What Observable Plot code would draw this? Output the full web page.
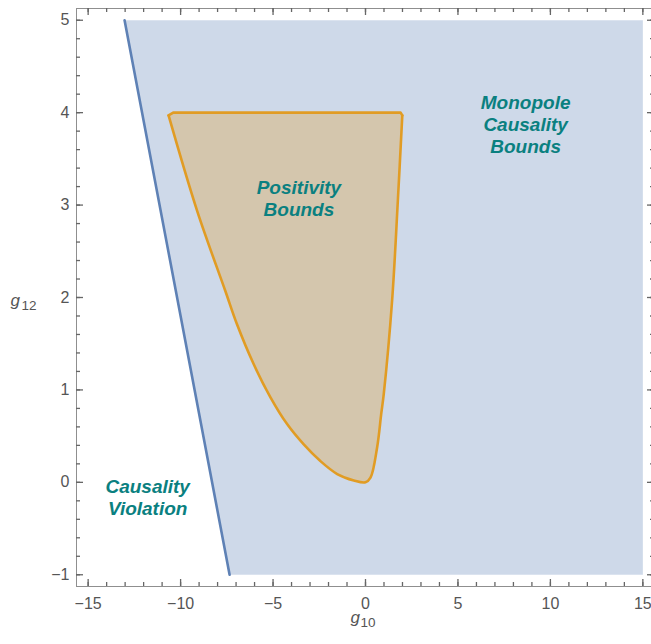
<!DOCTYPE html>
<html>
<head>
<meta charset="utf-8">
<script src="https://cdn.jsdelivr.net/npm/d3@7"></script>
<script src="https://cdn.jsdelivr.net/npm/@observablehq/plot@0.6"></script>
<style>
  html, body { margin: 0; padding: 0; background: #fff; overflow: hidden; }
</style>
</head>
<body>
<div id="chart"></div>
<script>
// Causality line bounding the allowed (monopole) region on the left
const causalityG10 = [-13.03, -7.35];
const causalityG12 = [5, -1];

// Monopole causality region (corners)
const monopoleG10 = [-13.03, 15, 15, -7.35];
const monopoleG12 = [5, 5, -1, -1];

// Positivity boundary: left branch from the top-left corner down to the origin,
// then the right branch up to the top-right corner
const boundaryG10 = [-10.65, -9.11, -7.58, -6.95, -6.05, -5.14, -4.24, -3.34, -2.44, -1.53, -0.63,
  0, 0.27, 0.63, 0.85, 0.99, 1.44, 1.75, 1.99];
const boundaryG12 = [3.97, 2.94, 2.07, 1.71, 1.28, 0.92, 0.63, 0.41, 0.23, 0.09, 0.02,
  0, 0.05, 0.38, 0.74, 0.96, 1.97, 3.05, 3.97];

// Positivity top edge (g12 = 4 cut, with its bevelled corners)
const topG10 = [1.99, 1.9, -10.4, -10.65];
const topG12 = [3.97, 4.0, 4.0, 3.97];

// Region annotations
const annotationText = ["Monopole\nCausality\nBounds", "Positivity\nBounds", "Causality\nViolation"];
const annotationG10 = [8.66, -3.6, -11.78];
const annotationG12 = [3.88, 3.08, -0.155];

// Axis ticks
const xMajorTicks = [-15, -10, -5, 0, 5, 10, 15];
const yMajorTicks = [-1, 0, 1, 2, 3, 4, 5];
const xMinorTicks = d3.range(-15, 15.5, 1);
const yMinorTicks = d3.range(-1, 5.05, 0.2).map(v => +v.toFixed(1));

const zip = (xs, ys) => xs.map((g10, i) => ({g10, g12: ys[i]}));
const causality = zip(causalityG10, causalityG12);
const monopole = zip(monopoleG10, monopoleG12);
const boundary = zip(boundaryG10, boundaryG12);
const topEdge = zip(topG10, topG12);
const positivity = boundary.concat(topEdge.slice(1, 3));
const annotations = annotationText.map((label, i) => ({label, g10: annotationG10[i], g12: annotationG12[i]}));

const blue = "#5E81B5";
const orange = "#E19C24";
const frameGray = "#8f8f8f";
const tickGray = "#666";
const labelGray = "#555";
const teal = "#0a8080";
const fmt = d => d < 0 ? "\u2212" + (-d) : String(d);

// frame spans 578px each way; ticks point inward from every side
const span = 578;
const major = 7, minor = 4;
const tickStyle = {stroke: tickGray, strokeWidth: 1.3};

const chart = Plot.plot({
  width: 651,
  height: 644,
  marginLeft: 76,
  marginRight: -3,
  marginTop: 8,
  marginBottom: 58,
  x: {domain: [-15.63, 15.63]},
  y: {domain: [-1.127, 5.127]},
  style: {fontFamily: "'Liberation Sans', Arial, sans-serif", fontSize: "16px", background: "white"},
  marks: [
    // regions
    Plot.line(monopole, {x: "g10", y: "g12", curve: "linear-closed", fill: blue, fillOpacity: 0.3, stroke: "none"}),
    Plot.line(causality, {x: "g10", y: "g12", stroke: blue, strokeWidth: 2.6}),
    Plot.line(positivity, {x: "g10", y: "g12", curve: "linear-closed", fill: orange, fillOpacity: 0.3, stroke: "none"}),
    Plot.line(boundary, {x: "g10", y: "g12", curve: "catmull-rom", stroke: orange, strokeWidth: 2.6, strokeLinejoin: "round"}),
    Plot.line(topEdge, {x: "g10", y: "g12", stroke: orange, strokeWidth: 2.6, strokeLinejoin: "round"}),

    // frame and inward ticks on all four sides
    Plot.frame({stroke: frameGray}),
    Plot.tickX(xMajorTicks, {x: d => d, ...tickStyle, insetTop: span - major}),
    Plot.tickX(xMinorTicks, {x: d => d, ...tickStyle, insetTop: span - minor}),
    Plot.tickX(xMajorTicks, {x: d => d, ...tickStyle, insetBottom: span - major}),
    Plot.tickX(xMinorTicks, {x: d => d, ...tickStyle, insetBottom: span - minor}),
    Plot.tickY(yMajorTicks, {y: d => d, ...tickStyle, insetRight: span - major}),
    Plot.tickY(yMinorTicks, {y: d => d, ...tickStyle, insetRight: span - minor}),
    Plot.tickY(yMajorTicks, {y: d => d, ...tickStyle, insetLeft: span - major}),
    Plot.tickY(yMinorTicks, {y: d => d, ...tickStyle, insetLeft: span - minor}),

    // tick labels
    Plot.axisX(xMajorTicks, {anchor: "bottom", tickSize: 0, tickPadding: 11, fontSize: 16, fill: labelGray, tickFormat: fmt, label: null}),
    Plot.axisY(yMajorTicks, {anchor: "left", tickSize: 0, tickPadding: 7, fontSize: 16, fill: labelGray, tickFormat: fmt, label: null}),

    // axis titles g₁₀ and g₁₂
    Plot.text(["g"], {frameAnchor: "bottom", dx: -15, dy: 36, textAnchor: "start", fontSize: 17, fontStyle: "italic", fill: labelGray}),
    Plot.text(["10"], {frameAnchor: "bottom", dx: -5, dy: 40, textAnchor: "start", fontSize: 13.5, fill: labelGray}),
    Plot.text(["g"], {frameAnchor: "left", dx: -66, dy: 3, textAnchor: "start", fontSize: 17, fontStyle: "italic", fill: labelGray}),
    Plot.text(["12"], {frameAnchor: "left", dx: -55, dy: 8, textAnchor: "start", fontSize: 13.5, fill: labelGray}),

    // region annotations
    Plot.text(annotations, {x: "g10", y: "g12", text: "label", fill: teal, fontWeight: "bold", fontStyle: "italic",
      fontSize: 19, lineHeight: 1.16})
  ]
});

document.getElementById("chart").appendChild(chart);
</script>
</body>
</html>
